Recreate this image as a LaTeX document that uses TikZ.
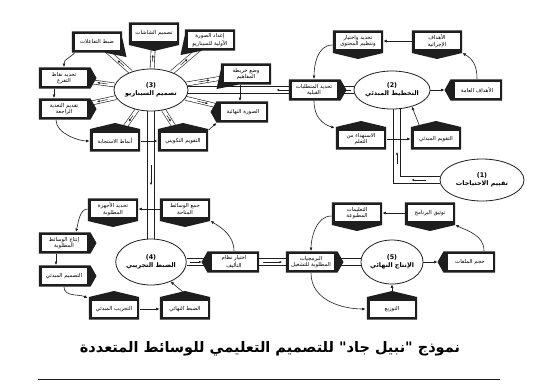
\documentclass[tikz,border=0pt]{standalone}
\usepackage{fontspec}
\usetikzlibrary{shapes.geometric,arrows.meta,calc}
\newfontfamily\arabicfont[Script=Arabic]{DejaVu Sans}
\TeXXeTstate=1
\newcommand{\artx}[1]{\beginR #1\endR}
\newcommand{\bxfont}{\arabicfont\fontsize{5.4}{6.2}\selectfont}
\newcommand{\elfont}{\arabicfont\bfseries\fontsize{6.4}{7.6}\selectfont}
\newcommand{\capfont}{\arabicfont\bfseries\fontsize{14.5}{16}\selectfont}
\definecolor{dk}{RGB}{30,30,30}
\pgfdeclarelayer{bg}
\pgfdeclarelayer{conn}
\pgfdeclarelayer{ptr}
\pgfsetlayers{bg,conn,ptr,main}
% frame thickness b = 2.6pt
\newcommand{\ptrD}[1]{\begin{pgfonlayer}{ptr}\fill[dk] ([shift={(-2.6,2.6)}]#1.north west) -- ([shift={(2.6,2.6)}]#1.north east) -- ([shift={(2.6,-4)}]#1.south east) -- ([yshift=-10pt]#1.south) -- ([shift={(-2.6,-4)}]#1.south west) -- cycle;\end{pgfonlayer}}
\newcommand{\ptrU}[1]{\begin{pgfonlayer}{ptr}\fill[dk] ([shift={(-2.6,-2.6)}]#1.south west) -- ([shift={(2.6,-2.6)}]#1.south east) -- ([shift={(2.6,4)}]#1.north east) -- ([yshift=10pt]#1.north) -- ([shift={(-2.6,4)}]#1.north west) -- cycle;\end{pgfonlayer}}
\newcommand{\ptrL}[1]{\begin{pgfonlayer}{ptr}\fill[dk] ([shift={(2.6,2.6)}]#1.north east) -- ([shift={(2.6,-2.6)}]#1.south east) -- ([shift={(-4,-2.6)}]#1.south west) -- ([xshift=-10pt]#1.west) -- ([shift={(-4,2.6)}]#1.north west) -- cycle;\end{pgfonlayer}}
\newcommand{\ptrR}[1]{\begin{pgfonlayer}{ptr}\fill[dk] ([shift={(-2.6,2.6)}]#1.north west) -- ([shift={(-2.6,-2.6)}]#1.south west) -- ([shift={(4,-2.6)}]#1.south east) -- ([xshift=10pt]#1.east) -- ([shift={(4,2.6)}]#1.north east) -- cycle;\end{pgfonlayer}}
\newcommand{\ptrDL}[1]{\begin{pgfonlayer}{ptr}\fill[dk] ([shift={(-2.6,2.6)}]#1.north west) -- ([shift={(2.6,2.6)}]#1.north east) -- ([shift={(2.6,-2.6)}]#1.south east) -- ([shift={(15,-2.6)}]#1.south west) -- ([shift={(-7,-7)}]#1.south west) -- ([shift={(-2.6,13)}]#1.south west) -- cycle;\end{pgfonlayer}}
\newcommand{\ptrDR}[1]{\begin{pgfonlayer}{ptr}\fill[dk] ([shift={(2.6,2.6)}]#1.north east) -- ([shift={(-2.6,2.6)}]#1.north west) -- ([shift={(-2.6,-2.6)}]#1.south west) -- ([shift={(-15,-2.6)}]#1.south east) -- ([shift={(7,-7)}]#1.south east) -- ([shift={(2.6,13)}]#1.south east) -- cycle;\end{pgfonlayer}}
\begin{document}
\begin{tikzpicture}[x=1pt,y=1pt,
  bx/.style={draw=none, fill=white, minimum width=45pt, minimum height=16pt, inner sep=0.6pt, outer sep=0pt, align=center, font=\bxfont},
  ell/.style={ellipse, draw=dk, line width=0.8pt, fill=white, align=center, inner sep=0pt, font=\elfont},
  arr/.style={draw=dk, line width=0.6pt, -{Latex[length=3.4pt,width=3pt]}},
  wide/.style={draw=dk, line width=0.8pt, double=white, double distance=6pt},
  spoke/.style={draw=dk, line width=0.6pt, double=white, double distance=3.4pt},
  inarr/.style={draw=dk, line width=0.5pt, -{Latex[length=2.6pt,width=2.4pt]}}]
\useasboundingbox (0,0) rectangle (534,-386);
\begin{pgfonlayer}{bg}\fill[white] (0,0) rectangle (534,-386);\end{pgfonlayer}

% ---------- Section 3
\node[ell, minimum width=74pt, minimum height=42pt] (E3) at (151,-90) {(3)\\\artx{تصميم السيناريو}};
\node[bx] (s3scr) at (154,-33) {\artx{تصميم الشاشات}}; \ptrD{s3scr}
\node[bx] (s3img) at (210,-40) {\artx{إعداد الصورة}\\\artx{الأولية للسيناريو}}; \ptrDL{s3img}
\node[bx] (s3map) at (246,-74) {\artx{وضع خريطة}\\\artx{المفاهيم}}; \ptrDL{s3map}
\node[bx] (s3fin) at (243,-112) {\artx{الصورة النهائية}}; \ptrL{s3fin}
\node[bx] (s3form) at (183,-141) {\artx{التقويم التكويني}}; \ptrU{s3form}
\node[bx] (s3resp) at (115,-141) {\artx{أنماط الاستجابة}}; \ptrU{s3resp}
\node[bx] (s3fb) at (64,-109) {\artx{تقديم التغذية}\\\artx{الراجعة}}; \ptrR{s3fb}
\node[bx] (s3br) at (64,-78) {\artx{تحديد نقاط}\\\artx{التفرع}}; \ptrR{s3br}
\node[bx] (s3int) at (97,-42) {\artx{ضبط التفاعلات}}; \ptrDR{s3int}

% ---------- Section 2
\node[ell, minimum width=56pt, minimum height=38pt] (E2) at (392,-90) {(2)\\\artx{التخطيط المبدئي}};
\node[bx] (s2req) at (314,-90) {\artx{تحديد المتطلبات}\\\artx{القبلية}}; \ptrR{s2req}
\node[bx] (s2cont) at (358,-41) {\artx{تحديد واختيار}\\\artx{وتنظيم المحتوى}}; \ptrD{s2cont}
\node[bx] (s2obj) at (437,-41) {\artx{الأهداف}\\\artx{الإجرائية}}; \ptrD{s2obj}
\node[bx] (s2gen) at (477,-90) {\artx{الأهداف العامة}}; \ptrL{s2gen}
\node[bx] (s2learn) at (361,-139) {\artx{الاستهداء من}\\\artx{التعلم}}; \ptrU{s2learn}
\node[bx] (s2pre) at (436,-139) {\artx{التقويم المبدئي}}; \ptrU{s2pre}
\node[ell, minimum width=84pt, minimum height=42pt] (E1) at (482,-180) {(1)\\\artx{تقييم الاحتياجات}};

% ---------- Section 4
\node[ell, minimum width=60pt, minimum height=46pt] (E4) at (151,-262) {(4)\\\artx{الضبط التجريبي}};
\node[bx] (s4dev) at (113,-209) {\artx{تحديد الأجهزة}\\\artx{المطلوبة}}; \ptrD{s4dev}
\node[bx] (s4col) at (185,-209) {\artx{جمع الوسائط}\\\artx{المتاحة}}; \ptrD{s4col}
\node[bx] (s4prod) at (64,-243) {\artx{إنتاج الوسائط}\\\artx{المطلوبة}}; \ptrR{s4prod}
\node[bx] (s4ini) at (64,-276) {\artx{التصميم المبدئي}}; \ptrR{s4ini}
\node[bx] (s4try) at (114,-309) {\artx{التجريب المبدئي}}; \ptrU{s4try}
\node[bx] (s4fin) at (185,-309) {\artx{الضبط النهائي}}; \ptrU{s4fin}
\node[bx] (s4aut) at (234,-262) {\artx{اختيار نظام}\\\artx{التأليف}}; \ptrL{s4aut}

% ---------- Section 5
\node[bx] (s5sw) at (311,-262) {\artx{البرمجيات}\\\artx{المطلوبة للتشغيل}}; \ptrR{s5sw}
\node[ell, minimum width=60pt, minimum height=44pt] (E5) at (392,-262) {(5)\\\artx{الإنتاج النهائي}};
\node[bx] (s5doc) at (357,-213) {\artx{التعليمات}\\\artx{المطبوعة}}; \ptrD{s5doc}
\node[bx] (s5prog) at (430,-213) {\artx{توثيق البرنامج}}; \ptrD{s5prog}
\node[bx] (s5size) at (470,-262) {\artx{حجم الملفات}}; \ptrL{s5size}
\node[bx] (s5dist) at (392,-309) {\artx{التوزيع}}; \ptrU{s5dist}

% ---------- Caption
\node[font=\capfont] (cap) at (270,-349) {\artx{نموذج "نبيل جاد" للتصميم التعليمي للوسائط المتعددة}};
\coordinate (bl) at (38,-379);
\coordinate (br) at (500,-379);
\draw[dk, line width=0.8pt] (bl) -- (br);

\begin{pgfonlayer}{conn}
% wide double connectors
\draw[wide] (E3) -- (s2req);
\draw[wide] (s2req) -- (E2);
\draw[wide] (E3) -- (E4);
\draw[wide] (E4) -- (s4aut);
\draw[wide] (s4aut) -- (s5sw);
\draw[wide] (s5sw) -- (E5);
\coordinate (c1) at (397,-180);
\draw[wide] (E1.west) -- (E1.west -| c1) -- (c1 |- E2.south);
\draw[inarr] ([xshift=-3pt]s2req.west) -- ([xshift=-15pt]s2req.west);
\draw[inarr] ([xshift=-3pt]E2.west) -- ([xshift=-13pt]E2.west);
\draw[inarr] ($(E3.south)!0.42!(E4.north)$) -- ($(E3.south)!0.58!(E4.north)$);
\draw[inarr] ([xshift=3pt]E4.east) -- ([xshift=15pt]E4.east);
\draw[inarr] ($(s4aut.east)!0.2!(s5sw.west)$) -- ($(s4aut.east)!0.8!(s5sw.west)$);
\draw[inarr] ([xshift=-14pt]E1.west) -- ([xshift=-28pt]E1.west);
\draw[inarr] ($(c1)+(0,16)$) -- ($(c1)+(0,28)$);
% spokes of section 3
\foreach \b in {s3scr,s3img,s3map,s3fin,s3form,s3resp,s3fb,s3br,s3int} {
  \draw[spoke] (E3) -- (\b);
  \draw[inarr] ($(E3)!0.5!(\b)$) -- ($(E3)!0.62!(\b)$);
}
% section 3 thin arrows
\draw[arr] ([yshift=-3pt]s3int.south west) .. controls +(-6,-6) and +(0,8) .. ([yshift=3pt]s3br.north);
\draw[arr] ([xshift=-10pt,yshift=-3pt]s3br.south) -- ([xshift=-10pt,yshift=3pt]s3fb.north);
\draw[arr] ([xshift=-8pt,yshift=-3pt]s3fb.south) .. controls +(0,-14) and +(-10,0) .. ([xshift=-3pt]s3resp.west);
\draw[arr] ([xshift=3pt]s3resp.east) -- ([xshift=-3pt]s3form.west);
\draw[arr] ([shift={(3,3)}]s3form.north east) -- ([shift={(-4,-3)}]s3fin.south west);
\draw[arr] ([xshift=-6pt,yshift=-3pt]s3map.south) -- ([xshift=-3pt,yshift=3pt]s3fin.north);
% section 2 thin arrows
\draw[arr] (E2) -- ([xshift=-10pt]s2gen.west);
\draw[arr] ([yshift=3pt]s2gen.north) .. controls +(0,14) and +(10,-6) .. ([xshift=3pt,yshift=-4pt]s2obj.south east);
\draw[arr] ([xshift=-3pt]s2obj.west) -- ([xshift=3pt]s2cont.east);
\draw[arr] ([xshift=-3pt,yshift=-4pt]s2cont.west) .. controls +(-16,0) and +(0,12) .. ([yshift=3pt]s2req.north);
\draw[arr] ([yshift=-3pt]s2req.south) .. controls +(0,-16) and +(-12,4) .. ([xshift=-4pt,yshift=3pt]s2learn.north west);
\draw[arr] ([xshift=3pt]s2learn.east) -- ([xshift=-3pt]s2pre.west);
\draw[arr] ([xshift=-16pt,yshift=4pt]s2pre.north) -- (E2.-40);
% section 4 thin arrows
\draw[arr] ([xshift=-3pt]s4col.west) -- ([xshift=3pt]s4dev.east);
\draw[arr] ([xshift=-3pt]s4dev.west) .. controls +(-8,0) and +(2,8) .. ([xshift=12pt,yshift=3pt]s4prod.north);
\draw[arr] ([xshift=-8pt,yshift=-3pt]s4prod.south) -- ([xshift=-8pt,yshift=3pt]s4ini.north);
\draw[arr] ([yshift=-3pt]s4ini.south) .. controls +(0,-10) and +(-8,4) .. ([xshift=-4pt,yshift=3pt]s4try.north west);
\draw[arr] ([xshift=3pt]s4try.east) -- ([xshift=-3pt]s4fin.west);
\draw[arr] ([xshift=4pt,yshift=4pt]s4fin.north) -- (E4.-45);
\draw[arr] ([yshift=3pt]s4aut.north) .. controls +(0,16) and +(10,-6) .. ([xshift=3pt,yshift=-4pt]s4col.south east);
% section 5 thin arrows
\draw[arr] (E5) -- ([xshift=-10pt]s5size.west);
\draw[arr] ([xshift=14pt,yshift=3pt]s5size.north) .. controls +(0,16) and +(12,-6) .. ([xshift=3pt,yshift=-4pt]s5prog.south east);
\draw[arr] ([xshift=-3pt]s5prog.west) -- ([xshift=3pt]s5doc.east);
\draw[arr] ([xshift=-3pt,yshift=-3pt]s5doc.west) .. controls +(-16,0) and +(0,12) .. ([yshift=3pt]s5sw.north);
\draw[arr] ([yshift=-3pt]s5sw.south) .. controls +(0,-28) and +(-22,0) .. ([xshift=-4pt]s5dist.west);
\draw[arr] ([yshift=10pt]s5dist.north) -- (E5);
\end{pgfonlayer}
\end{tikzpicture}
\end{document}
